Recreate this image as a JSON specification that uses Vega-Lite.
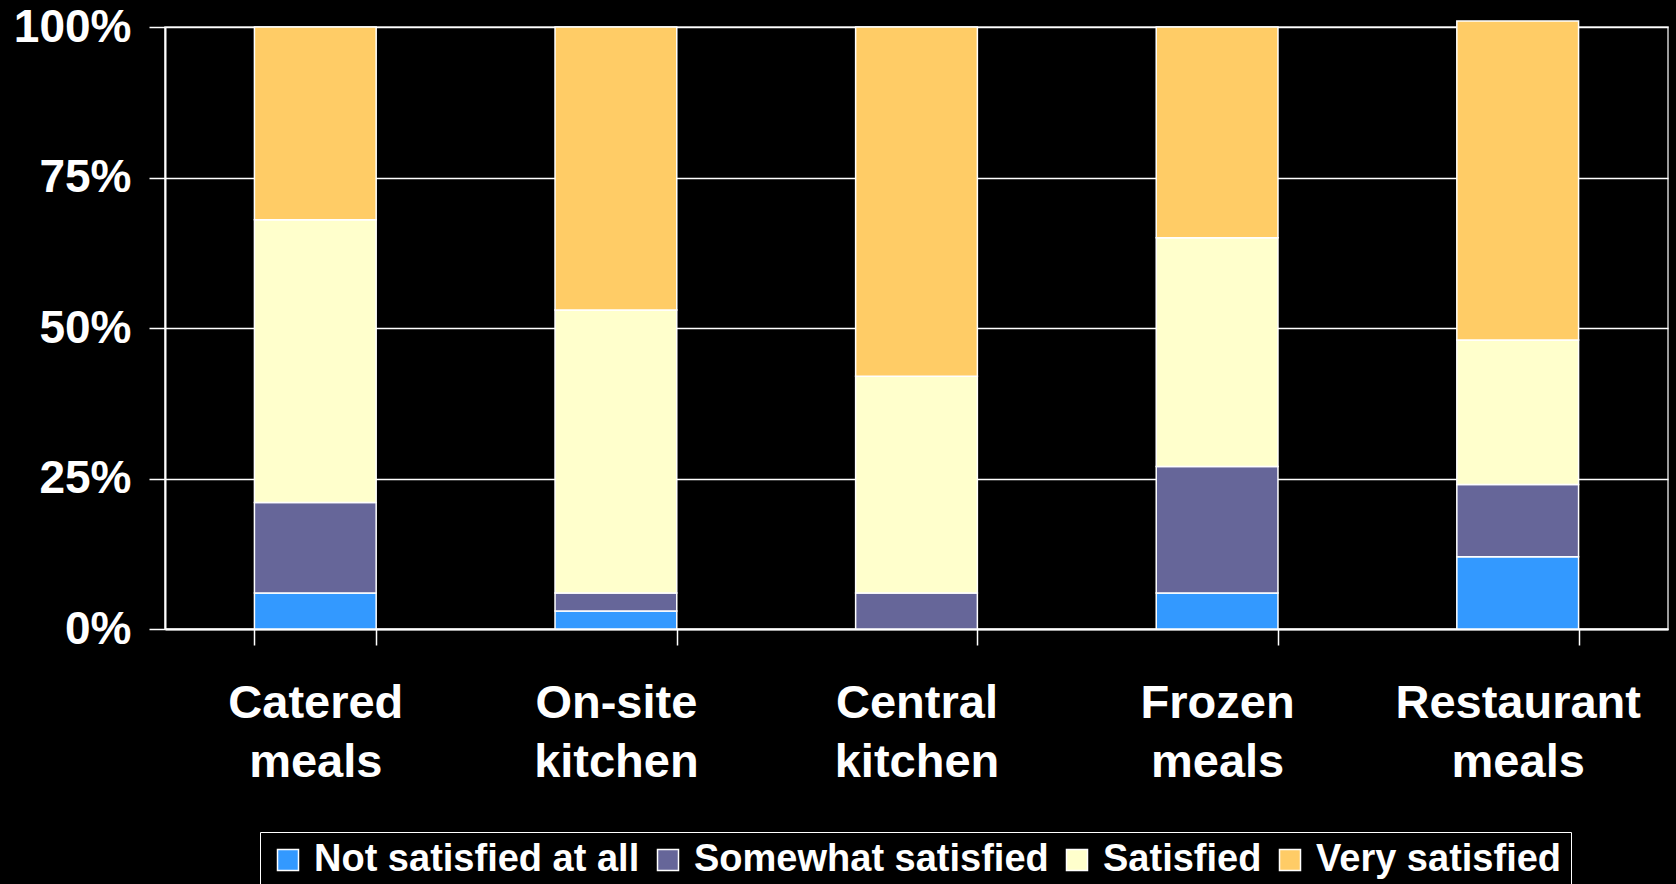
{
  "$schema": "https://vega.github.io/schema/vega-lite/v6.json",
  "autosize": {"type": "none"},
  "width": 1503,
  "height": 602,
  "padding": {"left": 165, "top": 27, "right": 8, "bottom": 255},
  "background": "#000000",
  "config": {
    "font": "Liberation Sans",
    "view": {"stroke": "#d0d0d0", "strokeWidth": 1.5}
  },
  "data": {
    "values": [
      {"category": "Catered meals", "level": "Not satisfied at all", "k": 1, "value": 0.06},
      {"category": "Catered meals", "level": "Somewhat satisfied", "k": 2, "value": 0.15},
      {"category": "Catered meals", "level": "Satisfied", "k": 3, "value": 0.47},
      {"category": "Catered meals", "level": "Very satisfied", "k": 4, "value": 0.32},
      {"category": "On-site kitchen", "level": "Not satisfied at all", "k": 1, "value": 0.03},
      {"category": "On-site kitchen", "level": "Somewhat satisfied", "k": 2, "value": 0.03},
      {"category": "On-site kitchen", "level": "Satisfied", "k": 3, "value": 0.47},
      {"category": "On-site kitchen", "level": "Very satisfied", "k": 4, "value": 0.47},
      {"category": "Central kitchen", "level": "Not satisfied at all", "k": 1, "value": 0.0},
      {"category": "Central kitchen", "level": "Somewhat satisfied", "k": 2, "value": 0.06},
      {"category": "Central kitchen", "level": "Satisfied", "k": 3, "value": 0.36},
      {"category": "Central kitchen", "level": "Very satisfied", "k": 4, "value": 0.58},
      {"category": "Frozen meals", "level": "Not satisfied at all", "k": 1, "value": 0.06},
      {"category": "Frozen meals", "level": "Somewhat satisfied", "k": 2, "value": 0.21},
      {"category": "Frozen meals", "level": "Satisfied", "k": 3, "value": 0.38},
      {"category": "Frozen meals", "level": "Very satisfied", "k": 4, "value": 0.35},
      {"category": "Restaurant meals", "level": "Not satisfied at all", "k": 1, "value": 0.12},
      {"category": "Restaurant meals", "level": "Somewhat satisfied", "k": 2, "value": 0.12},
      {"category": "Restaurant meals", "level": "Satisfied", "k": 3, "value": 0.24},
      {"category": "Restaurant meals", "level": "Very satisfied", "k": 4, "value": 0.53}
    ]
  },
  "mark": {"type": "bar", "stroke": "#ffffff", "strokeWidth": 1.5},
  "encoding": {
    "x": {
      "field": "category",
      "type": "nominal",
      "sort": ["Catered meals", "On-site kitchen", "Central kitchen", "Frozen meals", "Restaurant meals"],
      "scale": {"paddingInner": 0.595, "paddingOuter": 0.2975},
      "axis": {
        "title": null,
        "labelAngle": 0,
        "labelExpr": "split(datum.label, ' ')",
        "labelFontSize": 47,
        "labelFontWeight": "bold",
        "labelColor": "#ffffff",
        "labelLineHeight": 59,
        "labelPadding": 35,
        "labelLimit": 1000,
        "labelOverlap": false,
        "tickBand": "extent",
        "tickColor": "#ffffff",
        "tickSize": 16,
        "tickWidth": 1.5,
        "domainColor": "#ffffff",
        "domainWidth": 2,
        "grid": false
      }
    },
    "y": {
      "field": "value",
      "type": "quantitative",
      "stack": "zero",
      "scale": {"domain": [0, 1], "nice": false, "clamp": false},
      "axis": {
        "title": null,
        "values": [0, 0.25, 0.5, 0.75, 1],
        "format": ".0%",
        "labelFontSize": 46,
        "labelFontWeight": "bold",
        "labelColor": "#ffffff",
        "labelPadding": 18,
        "tickColor": "#ffffff",
        "tickSize": 16,
        "tickWidth": 1.5,
        "domainColor": "#ffffff",
        "domainWidth": 2,
        "grid": true,
        "gridColor": "#ffffff",
        "gridWidth": 1.5,
        "gridOpacity": 1
      }
    },
    "color": {
      "field": "level",
      "type": "nominal",
      "scale": {
        "domain": ["Not satisfied at all", "Somewhat satisfied", "Satisfied", "Very satisfied"],
        "range": ["#3399ff", "#666699", "#ffffcc", "#ffcc66"]
      },
      "legend": {
        "title": null,
        "orient": "none",
        "legendX": 95,
        "legendY": 805,
        "direction": "horizontal",
        "symbolType": "square",
        "symbolSize": 441,
        "symbolStrokeColor": "#ffffff",
        "symbolStrokeWidth": 1.5,
        "symbolOpacity": 1,
        "labelFontSize": 38,
        "labelFontWeight": "bold",
        "labelColor": "#ffffff",
        "labelOffset": 7,
        "labelLimit": 600,
        "columnPadding": 9,
        "padding": 9,
        "fillColor": "#000000",
        "strokeColor": "#ffffff"
      }
    },
    "order": {"field": "k", "type": "quantitative"}
  }
}
